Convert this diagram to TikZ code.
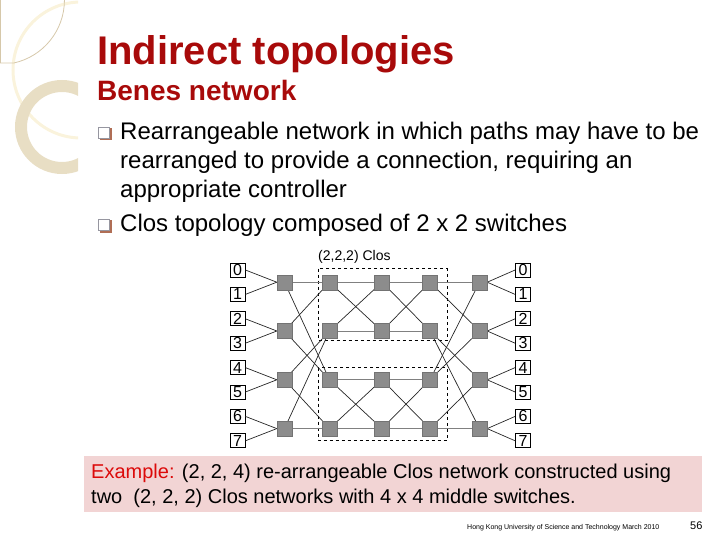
\documentclass[tikz,border=0pt]{standalone}
\usepackage{fontspec}
\setmainfont{Liberation Sans}
\definecolor{titlered}{RGB}{168,10,10}
\definecolor{exred}{RGB}{220,10,10}
\definecolor{pinkbox}{RGB}{242,212,212}
\definecolor{beigeline}{RGB}{214,200,170}
\definecolor{ringcol}{RGB}{232,222,196}
\definecolor{faintcol}{RGB}{250,243,220}
\definecolor{swfill}{RGB}{140,140,140}
\definecolor{swdraw}{RGB}{115,115,115}
\definecolor{bulletbrown}{RGB}{176,110,85}
\definecolor{bulletgray}{RGB}{150,150,160}
\tikzset{
  sw/.style={draw=swdraw, fill=swfill, line width=0.4pt, minimum width=15, minimum height=15, inner sep=0},
  lbl/.style={draw=black, fill=white, line width=0.8pt, minimum width=15, minimum height=14, inner sep=0, font=\fontsize{16}{16}\selectfont},
  diag/.style={draw=black!85, line width=0.7pt},
  horz/.style={draw=black!50, line width=1pt},
  txt/.style={anchor=base west, inner sep=0},
}
\begin{document}
\begin{tikzpicture}[x=1pt,y=-1pt]
\useasboundingbox (0,0) rectangle (720,540);
% decoration
\begin{scope}
\clip (0,0) rectangle (78,540);
\draw[faintcol, line width=3] (81,70) circle[radius=68];
\draw[ringcol, line width=12] (62,127) circle[radius=41];
\end{scope}
\draw[beigeline, line width=0.8] (0.5,0) -- (0.5,63) -- (13.8,63) arc[start angle=77.6, end angle=0, radius=64.5];
% title
\node[txt, text=titlered, font=\fontsize{40}{44}\bfseries\selectfont] (title) at (97,65) {Indirect topologies};
\node[txt, text=titlered, font=\fontsize{28}{32}\bfseries\selectfont] (sub) at (97,101) {Benes network};
% bullets
\foreach \y/\n in {127/b1,219/b2}{
  \fill[bulletbrown] (99.5,\y+1.5) rectangle ++(12,12);
  \filldraw[fill=white, draw=bulletgray, line width=0.6] (98,\y) rectangle ++(11,11);
}
\node[txt, font=\fontsize{24}{28}\selectfont] (t1) at (120,140) {Rearrangeable network in which paths may have to be};
\node[txt, font=\fontsize{24}{28}\selectfont] (t2) at (120,169) {rearranged to provide a connection, requiring an};
\node[txt, font=\fontsize{24}{28}\selectfont] (t3) at (120,197) {appropriate controller};
\node[txt, font=\fontsize{24}{28}\selectfont] (t4) at (120,232) {Clos topology composed of 2 x 2 switches};
% diagram
\node[txt, font=\fontsize{14}{14}\selectfont] (clos) at (318,260) {(2,2,2) Clos};
\draw[dashed, line width=0.8] (318,268.5) rectangle (447,340);
\draw[dashed, line width=0.8] (318,367.5) rectangle (447,440);
\foreach \i in {0,...,7}{
  \node[lbl] (L\i) at (237.5,{270+24.4*\i}) {\i};
  \node[lbl] (R\i) at (523,{270+24.4*\i}) {\i};
}
\foreach \c/\x in {1/284.5,2/329.5,3/382,4/430,5/479.5}{
  \foreach \r in {0,...,3}{
    \node[sw] (S\c\r) at (\x,{282.2+48.8*\r}) {};
  }
}
% label links
\foreach \r/\a/\b in {0/0/1,1/2/3,2/4/5,3/6/7}{
  \draw[diag] (L\a.east) -- (S1\r.west);
  \draw[diag] (L\b.east) -- (S1\r.west);
  \draw[diag] (R\a.west) -- (S5\r.east);
  \draw[diag] (R\b.west) -- (S5\r.east);
}
% stage 1 -> 2
\draw[horz] (S10) -- (S20);
\draw[horz] (S13) -- (S23);
\draw[diag] (S11) -- (S20);
\draw[diag] (S12) -- (S21);
\draw[diag] (S13) -- (S21);
\draw[diag] (S10) -- (S22);
\draw[diag] (S11) -- (S22);
\draw[diag] (S12) -- (S23);
% stage 2 -> 3 and 3 -> 4
\foreach \a/\b in {2/3,3/4}{
  \foreach \r in {0,...,3}{ \draw[horz] (S\a\r) -- (S\b\r); }
  \draw[diag] (S\a0) -- (S\b1);
  \draw[diag] (S\a1) -- (S\b0);
  \draw[diag] (S\a2) -- (S\b3);
  \draw[diag] (S\a3) -- (S\b2);
}
% stage 4 -> 5
\draw[horz] (S40) -- (S50);
\draw[horz] (S43) -- (S53);
\draw[diag] (S40) -- (S51);
\draw[diag] (S41) -- (S52);
\draw[diag] (S41) -- (S53);
\draw[diag] (S42) -- (S50);
\draw[diag] (S42) -- (S51);
\draw[diag] (S43) -- (S52);
% redraw switches on top
\foreach \c/\x in {1/284.5,2/329.5,3/382,4/430,5/479.5}{
  \foreach \r in {0,...,3}{
    \node[sw] at (\x,{282.2+48.8*\r}) {};
  }
}
% example box
\fill[pinkbox] (84,456) rectangle (702,512);
\node[txt, font=\fontsize{20}{24}\selectfont] (ex1) at (91,478) {\textcolor{exred}{Example:} (2, 2, 4) re-arrangeable Clos network constructed using};
\node[txt, font=\fontsize{20}{24}\selectfont] (ex2) at (91,503) {two\ \ (2, 2, 2) Clos networks with 4 x 4 middle switches.};
% footer
\node[txt, font=\fontsize{7}{8}\selectfont] (foot) at (467,529) {Hong Kong University of Science and Technology March 2010};
\node[txt, font=\fontsize{11}{12}\selectfont] (page) at (690,529) {56};
\end{tikzpicture}
\end{document}
